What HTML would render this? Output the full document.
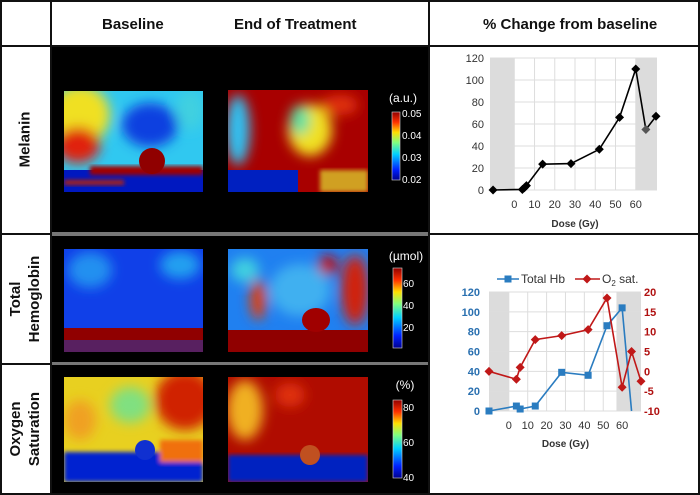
<!DOCTYPE html>
<html><head><meta charset="utf-8">
<style>
body{margin:0;width:700px;height:495px;background:#fff;font-family:"Liberation Sans",sans-serif;overflow:hidden;position:relative}
.abs{position:absolute}
.hdr{font-weight:bold;font-size:15px;color:#111}
.rowlab{position:absolute;font-weight:bold;font-size:15px;color:#111;transform:rotate(-90deg);text-align:center;line-height:19px;white-space:nowrap}
</style></head><body>
<svg width="700" height="495" style="position:absolute;left:0;top:0">
<defs>
<filter id="bl" x="-30%" y="-30%" width="160%" height="160%"><feGaussianBlur stdDeviation="6"/></filter>
<filter id="bl2"><feGaussianBlur stdDeviation="2"/></filter>
<linearGradient id="jet" x1="0" y1="1" x2="0" y2="0">
<stop offset="0" stop-color="#00008f"/><stop offset="0.15" stop-color="#0020ff"/><stop offset="0.38" stop-color="#00d0ff"/><stop offset="0.55" stop-color="#80ff80"/><stop offset="0.7" stop-color="#ffe000"/><stop offset="0.85" stop-color="#ff3000"/><stop offset="1" stop-color="#900000"/></linearGradient>
<clipPath id="c1"><rect x="64" y="91" width="139" height="101"/></clipPath>
<clipPath id="c2"><rect x="228" y="90" width="140" height="102"/></clipPath>
<clipPath id="c3"><rect x="64" y="249" width="139" height="103"/></clipPath>
<clipPath id="c4"><rect x="228" y="249" width="140" height="103"/></clipPath>
<clipPath id="c5"><rect x="64" y="377" width="139" height="105"/></clipPath>
<clipPath id="c6"><rect x="228" y="377" width="140" height="105"/></clipPath>
</defs>
<!-- frame -->
<rect x="0" y="0" width="700" height="495" fill="#fff"/>
<rect x="51" y="47" width="377" height="448" fill="#000"/>
<rect x="51" y="232" width="377" height="4" fill="#777"/>
<rect x="51" y="362" width="377" height="3" fill="#777"/>
<g stroke="#111" stroke-width="2" fill="none">
<line x1="0" y1="1" x2="700" y2="1"/>
<line x1="0" y1="46" x2="700" y2="46"/>
<line x1="51" y1="0" x2="51" y2="495"/>
<line x1="429" y1="0" x2="429" y2="495"/>
<line x1="0" y1="234" x2="51" y2="234"/>
<line x1="429" y1="234" x2="700" y2="234"/>
<line x1="0" y1="364" x2="51" y2="364"/>
<line x1="0" y1="494" x2="700" y2="494"/>
<line x1="699" y1="0" x2="699" y2="495"/>
<line x1="1" y1="0" x2="1" y2="495"/>
</g>
<!-- melanin baseline -->
<g clip-path="url(#c1)">
<rect x="64" y="91" width="139" height="101" fill="#30c8f0"/>
<g filter="url(#bl)">
<ellipse cx="80" cy="115" rx="30" ry="30" fill="#f0e020"/>
<ellipse cx="78" cy="145" rx="22" ry="18" fill="#e02010"/>
<ellipse cx="150" cy="125" rx="28" ry="22" fill="#1040e0"/>
<ellipse cx="190" cy="110" rx="14" ry="20" fill="#40d0e0"/>
</g>
<rect x="64" y="170" width="139" height="22" fill="#0018c0"/>
<g filter="url(#bl2)"><rect x="90" y="166" width="113" height="9" fill="#a00000"/><rect x="64" y="180" width="60" height="5" fill="#b02010"/></g>
<circle cx="152" cy="161" r="13" fill="#900000"/>
</g>
<!-- melanin EoT -->
<g clip-path="url(#c2)">
<rect x="228" y="90" width="140" height="102" fill="#a80000"/>
<g filter="url(#bl)">
<ellipse cx="238" cy="130" rx="12" ry="35" fill="#30c0f0"/>
<ellipse cx="310" cy="130" rx="22" ry="26" fill="#f0e020"/>
<ellipse cx="300" cy="120" rx="10" ry="15" fill="#60e0a0"/>
<ellipse cx="340" cy="105" rx="18" ry="10" fill="#e03010"/>
</g>
<rect x="228" y="170" width="70" height="22" fill="#0020c0"/>
<g filter="url(#bl2)"><rect x="320" y="170" width="48" height="22" fill="#d0a020"/></g>
</g>
<!-- Hb baseline -->
<g clip-path="url(#c3)">
<rect x="64" y="249" width="139" height="103" fill="#1040e8"/>
<g filter="url(#bl)"><ellipse cx="90" cy="270" rx="22" ry="18" fill="#2090f0"/><ellipse cx="180" cy="265" rx="20" ry="14" fill="#20a0f0"/></g>
<rect x="64" y="328" width="139" height="24" fill="#900000"/>
<rect x="64" y="340" width="139" height="12" fill="#2040c0" opacity="0.5"/>
</g>
<!-- Hb EoT -->
<g clip-path="url(#c4)">
<rect x="228" y="249" width="140" height="103" fill="#2080f0"/>
<g filter="url(#bl)"><ellipse cx="300" cy="290" rx="30" ry="26" fill="#40b0f0"/><ellipse cx="355" cy="290" rx="14" ry="35" fill="#d02010"/><ellipse cx="328" cy="265" rx="10" ry="10" fill="#c01010"/><ellipse cx="258" cy="300" rx="8" ry="20" fill="#e04010"/><ellipse cx="245" cy="270" rx="14" ry="12" fill="#40d0e0"/></g>
<rect x="228" y="330" width="140" height="22" fill="#900000"/>
<ellipse cx="316" cy="320" rx="14" ry="12" fill="#a00000"/>
</g>
<!-- O2 baseline -->
<g clip-path="url(#c5)">
<rect x="64" y="377" width="139" height="105" fill="#e8d020"/>
<g filter="url(#bl)"><ellipse cx="185" cy="400" rx="30" ry="30" fill="#d02000"/><ellipse cx="130" cy="405" rx="20" ry="18" fill="#80e080"/><ellipse cx="80" cy="420" rx="16" ry="20" fill="#f0a020"/></g>
<g filter="url(#bl2)"><rect x="64" y="452" width="139" height="30" fill="#0020d0"/><rect x="160" y="440" width="43" height="22" fill="#f07010"/></g>
<circle cx="145" cy="450" r="10" fill="#1030d0"/>
</g>
<!-- O2 EoT -->
<g clip-path="url(#c6)">
<rect x="228" y="377" width="140" height="105" fill="#b00c00"/>
<g filter="url(#bl)"><ellipse cx="245" cy="410" rx="18" ry="30" fill="#f0b020"/><ellipse cx="290" cy="395" rx="15" ry="12" fill="#e03010"/></g>
<g filter="url(#bl2)"><rect x="228" y="455" width="140" height="27" fill="#0020c0"/></g>
<circle cx="310" cy="455" r="10" fill="#c05020"/>
</g>
<!-- colorbars -->
<g>
<rect x="392" y="112" width="8" height="68" fill="url(#jet)" stroke="#ddd" stroke-width="0.6"/>
<text x="403" y="102" fill="#fff" font-size="12" text-anchor="middle">(a.u.)</text>
<g fill="#fff" font-size="10"><text x="402" y="117">0.05</text><text x="402" y="139">0.04</text><text x="402" y="161">0.03</text><text x="402" y="183">0.02</text></g>
</g>
<g>
<rect x="393" y="268" width="9" height="80" fill="url(#jet)" stroke="#ddd" stroke-width="0.6"/>
<text x="406" y="260" fill="#fff" font-size="12" text-anchor="middle">(µmol)</text>
<g fill="#fff" font-size="10"><text x="403" y="287">60</text><text x="403" y="309">40</text><text x="403" y="331">20</text></g>
</g>
<g>
<rect x="393" y="400" width="9" height="78" fill="url(#jet)" stroke="#ddd" stroke-width="0.6"/>
<text x="405" y="389" fill="#fff" font-size="12" text-anchor="middle">(%)</text>
<g fill="#fff" font-size="10"><text x="403" y="411">80</text><text x="403" y="446">60</text><text x="403" y="481">40</text></g>
</g>
<g id="chart1"></g>
<g id="chart2"></g>
</svg>
<div class="abs hdr" style="left:102px;top:16px">Baseline</div>
<div class="abs hdr" style="left:234px;top:16px">End of Treatment</div>
<div class="abs hdr" style="left:483px;top:16px">% Change from baseline</div>
<div class="rowlab" style="left:-15px;top:130px;width:80px">Melanin</div>
<div class="rowlab" style="left:-25px;top:280px;width:100px">Total<br>Hemoglobin</div>
<div class="rowlab" style="left:-25px;top:410px;width:100px">Oxygen<br>Saturation</div>
<script>
const NS="http://www.w3.org/2000/svg";
// chart 1 data
const melDose=[-10.5,4,5,6,14,28,42,52,60,65,70];
const melVal=[0,0.5,2,4,23.5,24,37,66,110,55,67];
const melYTicks=[0,20,40,60,80,100,120];
const melXTicks=[0,10,20,30,40,50,60];
// chart 2 data
const hbDose=[-10.5,4,6,14,28,42,52,60,65];
const hbVal=[0,5,2,5,39,36,86,104,0];
const o2Dose=[-10.5,4,6,14,28,42,52,60,65,70];
const o2Val=[0,-2,1,8,9,10.5,18.5,-4,5,-2.5];
const hbYTicks=[0,20,40,60,80,100,120];
const o2YTicks=[-10,-5,0,5,10,15,20];
const hbXTicks=[0,10,20,30,40,50,60];

function mk(tag,attrs,parent,txt){const e=document.createElementNS(NS,tag);for(const k in attrs)e.setAttribute(k,attrs[k]);if(txt!==undefined)e.textContent=txt;parent.appendChild(e);return e;}
function diamond(x,y,r){return `M${x},${y-r}L${x+r},${y}L${x},${y+r}L${x-r},${y}Z`;}

// Chart 1
(function(){
const g=document.getElementById('chart1');
const x0=-12,x1=70.5,y0=0,y1=120;
const L=490,R=657,T=58,B=190;
const sx=v=>L+(v-x0)/(x1-x0)*(R-L), sy=v=>B-(v-y0)/(y1-y0)*(B-T);
mk('rect',{x:sx(x0),y:T,width:sx(0)-sx(x0),height:B-T,fill:'#dcdcdc'},g);
mk('rect',{x:sx(60),y:T,width:R-sx(60),height:B-T,fill:'#dcdcdc'},g);
melYTicks.forEach(t=>{mk('line',{x1:L,x2:R,y1:sy(t),y2:sy(t),stroke:'#ddd','stroke-width':1},g);
const tl=mk('text',{x:L-6,y:sy(t)+4,'font-size':11,'text-anchor':'end',fill:'#333'},g,t);

});
melXTicks.forEach(t=>{mk('line',{x1:sx(t),x2:sx(t),y1:T,y2:B,stroke:'#ddd','stroke-width':1},g);
const tl=mk('text',{x:sx(t),y:B+18,'font-size':11,'text-anchor':'middle',fill:'#333'},g,t);

});
const at=mk('text',{x:sx(30),y:B+37,'font-size':10,'font-weight':'bold','text-anchor':'middle',fill:'#333'},g,'Dose (Gy)');


const pts=melDose.map((d,i)=>sx(d)+','+sy(melVal[i])).join(' ');
const ln=mk('polyline',{points:pts,fill:'none',stroke:'#000','stroke-width':1.6},g);


melDose.forEach((d,i)=>{const p=mk('path',{d:diamond(sx(d),sy(melVal[i]),4.5),fill:i==9?'#555':'#000'},g);

});
})();

// Chart 2
(function(){
const g=document.getElementById('chart2');
const x0=-10.5,x1=70,L=489,R=641,T=292,B=411;
const sx=v=>L+(v-x0)/(x1-x0)*(R-L);
const sy=v=>B-v/120*(B-T), sy2=v=>B-(v+10)/30*(B-T);
mk('rect',{x:sx(x0),y:T,width:sx(0)-sx(x0),height:B-T,fill:'#dcdcdc'},g);
mk('rect',{x:sx(57),y:T,width:R-sx(57),height:B-T,fill:'#dcdcdc'},g);
hbYTicks.forEach(t=>{mk('line',{x1:L,x2:R,y1:sy(t),y2:sy(t),stroke:'#ddd'},g);
const tl=mk('text',{x:L-9,y:sy(t)+4,'font-size':11,'text-anchor':'end',fill:'#2a70b0','font-weight':'bold'},g,t);

});
o2YTicks.forEach(t=>{
const tl=mk('text',{x:R+3,y:sy2(t)+4,'font-size':11,fill:'#b01010','font-weight':'bold'},g,t);

});
hbXTicks.forEach(t=>{mk('line',{x1:sx(t),x2:sx(t),y1:T,y2:B,stroke:'#ddd'},g);
const tl=mk('text',{x:sx(t),y:B+18,'font-size':11,'text-anchor':'middle',fill:'#333'},g,t);

});
const at=mk('text',{x:sx(30),y:B+36,'font-size':10,'font-weight':'bold','text-anchor':'middle',fill:'#333'},g,'Dose (Gy)');


const hl=mk('polyline',{points:hbDose.map((d,i)=>sx(d)+','+sy(hbVal[i])).join(' '),fill:'none',stroke:'#2a7cc0','stroke-width':1.6},g);


hbDose.forEach((d,i)=>{if(i==hbDose.length-1)return;const p=mk('rect',{x:sx(d)-3.5,y:sy(hbVal[i])-3.5,width:7,height:7,fill:'#2a7cc0'},g);

});
const rl=mk('polyline',{points:o2Dose.map((d,i)=>sx(d)+','+sy2(o2Val[i])).join(' '),fill:'none',stroke:'#c01818','stroke-width':1.6},g);


o2Dose.forEach((d,i)=>{const p=mk('path',{d:diamond(sx(d),sy2(o2Val[i]),4.5),fill:'#c01818'},g);

});
// legend
const lg=mk('g',{},g);


mk('line',{x1:497,x2:519,y1:279,y2:279,stroke:'#2a7cc0','stroke-width':1.6},lg);
mk('rect',{x:504.5,y:275.5,width:7,height:7,fill:'#2a7cc0'},lg);
mk('text',{x:521,y:283,'font-size':12,fill:'#333'},lg,'Total Hb');
mk('line',{x1:575,x2:600,y1:279,y2:279,stroke:'#c01818','stroke-width':1.6},lg);
mk('path',{d:diamond(587,279,4.5),fill:'#c01818'},lg);
const o=mk('text',{x:602,y:283,'font-size':12,fill:'#333'},lg,'O');
mk('tspan',{'font-size':8,dy:3},o,'2');
mk('tspan',{dy:-3},o,' sat.');
})();
</script>
</body></html>
